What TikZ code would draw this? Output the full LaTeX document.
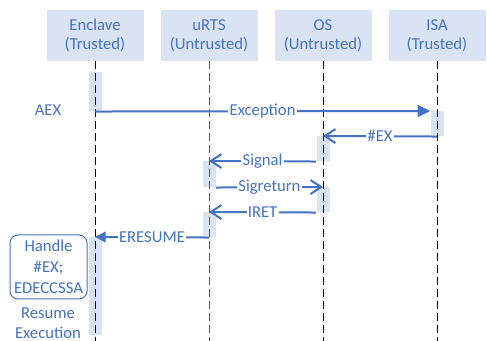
\documentclass[tikz,border=0pt]{standalone}
\usepackage{fontspec}
\setmainfont{Carlito}
\definecolor{msgblue}{RGB}{68, 114, 196}
\definecolor{barfill}{RGB}{218, 227, 243}
\usepackage{tikz}
\usetikzlibrary{arrows.meta, positioning}

\begin{document}
\begin{tikzpicture}[x=0.75pt, y=-0.75pt,
  font=\fontsize{12.5}{14.5}\selectfont,
  actor/.style={fill=barfill, text=msgblue, align=center, inner sep=0pt,
    minimum width=97*0.75pt, minimum height=51*0.75pt},
  actbar/.style={fill=barfill, inner sep=0pt, anchor=north, minimum width=13*0.75pt},
  lifeline/.style={draw=black, line width=0.75pt, dash pattern=on 6pt off 3pt},
  msg/.style={draw=msgblue, line width=1.5pt},
  opentip/.style={-{Straight Barb[length=8pt, width=10.5pt]}},
  filltip/.style={-{Triangle[length=9.5pt, width=9pt]}},
  msglabel/.style={fill=white, text=msgblue, inner sep=1pt}]

  \useasboundingbox (0,0) rectangle (487,341);
  \coordinate (bottom) at (0,341);

  % Participants
  \node[actor] (enclave) at (95,35.5) {Enclave\\(Trusted)};
  \node[actor] (urts) at (209,35.5) {uRTS\\(Untrusted)};
  \node[actor] (os) at (323,35.5) {OS\\(Untrusted)};
  \node[actor] (isa) at (437,35.5) {ISA\\(Trusted)};

  % Activation bars
  \node[actbar, minimum height=39*0.75pt] (e1) at (95,72) {};
  \node[actbar, minimum height=25*0.75pt] (i1) at (437,111) {};
  \node[actbar, minimum height=25*0.75pt] (o1) at (323,136) {};
  \node[actbar, minimum height=26*0.75pt] (u1) at (209,161) {};
  \node[actbar, minimum height=25*0.75pt] (o2) at (323,187) {};
  \node[actbar, minimum height=25*0.75pt] (u2) at (209,212) {};
  \node[actbar, minimum height=98*0.75pt] (e2) at (95,237) {};

  % Lifelines
  \draw[lifeline] (enclave.south) -- (enclave |- bottom);
  \draw[lifeline, draw=black!65] (urts.south) -- (urts |- bottom);
  \draw[lifeline] (os.south) -- (os |- bottom);
  \draw[lifeline] (isa.south) -- (isa |- bottom);

  % Messages
  \draw[msg, filltip] (e1.south) -- node[msglabel] {Exception} (i1.north west);
  \draw[msg, opentip] (i1.south) -- node[msglabel] {\#EX} (o1.north);
  \draw[msg, opentip] (o1.south west) -- node[msglabel] {Signal} (u1.north);
  \draw[msg, opentip] (u1.south east) -- node[msglabel] {Sigreturn} (o2.north);
  \draw[msg, opentip] (o2.south west) -- node[msglabel] {IRET} (u2.north);
  \draw[msg, -{Triangle[length=8pt, width=8pt]}] (u2.south) -- node[msglabel] {ERESUME} (e2.north);

  % Enclave side notes
  \node[text=msgblue] (aex) at (48,110) {AEX};
  \node[draw=msgblue, line width=0.75pt, rounded corners=6pt, fill=white, text=msgblue,
    align=center, inner sep=1pt, minimum width=77*0.75pt, minimum height=64*0.75pt,
    font=\fontsize{12.5}{15.75}\selectfont] (handle) at (48.5,267) {Handle\\\#EX;\\EDECCSSA};
  \node[text=msgblue, align=center, inner sep=0pt, font=\fontsize{12.5}{15}\selectfont]
    (resume) at (48,323) {Resume\\Execution};
\end{tikzpicture}
\end{document}
